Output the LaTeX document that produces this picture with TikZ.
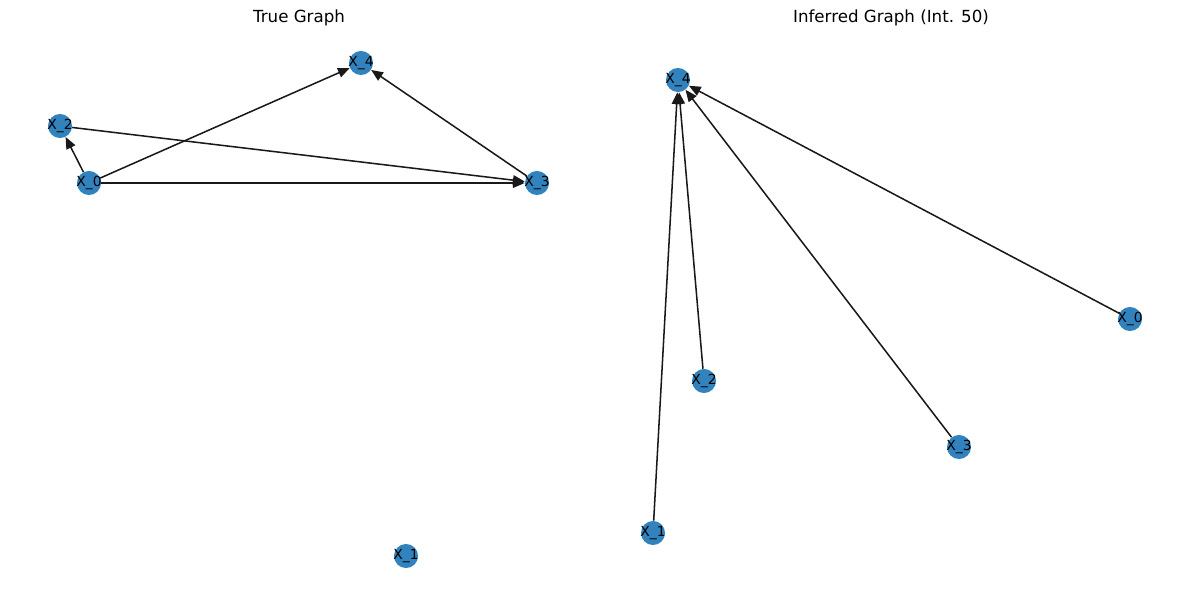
\documentclass[tikz,border=0pt]{standalone}
\usepackage{fontspec}
\setmainfont{DejaVu Sans}
\usetikzlibrary{arrows.meta}
\definecolor{nodeblue}{RGB}{49,130,189}
\newcommand{\vlab}[1]{\makebox[0pt]{#1}}

\begin{document}
\begin{tikzpicture}[x=0.72pt, y=-0.72pt,
    vert/.style={circle, fill=nodeblue, minimum size=17.3pt, inner sep=0pt, font=\fontsize{10}{12}\selectfont},
    edge/.style={-{Triangle[length=8.5pt,width=7pt]}, line width=1.1pt, draw=black!90}]
    \useasboundingbox (0,0) rectangle (1189,591);

    % titles
    \node (ttrue) at (299,18) {\fontsize{12}{14}\selectfont True Graph};
    \node (tinf) at (891,18) {\fontsize{12}{14}\selectfont Inferred Graph (Int. 50)};

    % true graph
    \node (t4) [vert] at (361,63) {\vlab{X\_4}};
    \node (t2) [vert] at (60,126) {\vlab{X\_2}};
    \node (t0) [vert] at (89,183) {\vlab{X\_0}};
    \node (t3) [vert] at (537,183) {\vlab{X\_3}};
    \node (t1) [vert] at (406,556) {\vlab{X\_1}};

    \draw[edge] (t0) -- (t2);
    \draw[edge] (t0) -- (t4);
    \draw[edge] (t0) -- (t3);
    \draw[edge] (t2) -- (t3);
    \draw[edge] (t3) -- (t4);

    % inferred graph
    \node (i4) [vert] at (678,80) {\vlab{X\_4}};
    \node (i0) [vert] at (1130,319) {\vlab{X\_0}};
    \node (i2) [vert] at (704,381) {\vlab{X\_2}};
    \node (i3) [vert] at (959,447) {\vlab{X\_3}};
    \node (i1) [vert] at (653,533) {\vlab{X\_1}};

    \draw[edge] (i1) -- (i4);
    \draw[edge] (i2) -- (i4);
    \draw[edge] (i3) -- (i4);
    \draw[edge] (i0) -- (i4);
\end{tikzpicture}
\end{document}
